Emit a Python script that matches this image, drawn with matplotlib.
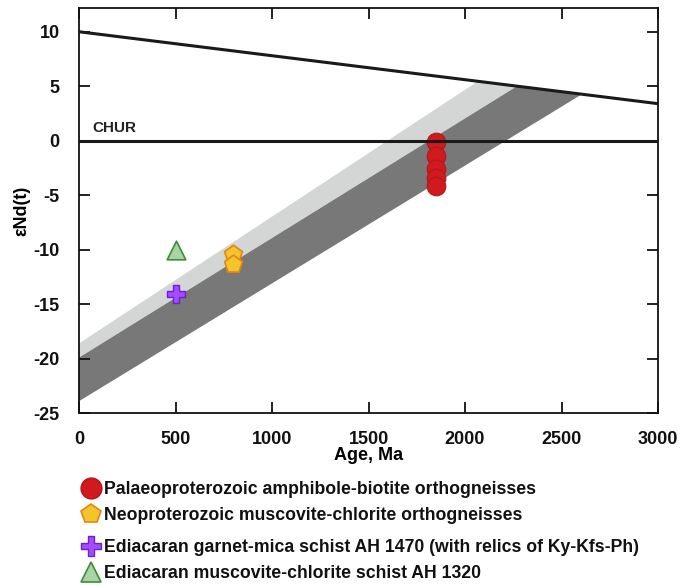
import numpy as np
import matplotlib
matplotlib.use("Agg")
import matplotlib.pyplot as plt
from matplotlib.lines import Line2D

plt.rcParams['font.family'] = ['Liberation Sans Narrow', 'Liberation Sans', 'DejaVu Sans']
plt.rcParams['font.weight'] = 'bold'
plt.rcParams['axes.unicode_minus'] = False

# ---- data ----
dm_age = [0, 3000]
dm_end = [10.0, 3.4]          # depleted mantle line
chur_value = 0.0

# band edges: (eNd at 0 Ma, age where the edge meets the DM line)
light_top = (-18.6, 2067)
band_mid = (-19.9, 2270)
dark_bottom = (-23.9, 2606)

palaeo_age = [1850, 1850, 1850, 1850, 1850]
palaeo_end = [-0.1, -1.4, -2.6, -3.4, -4.2]
neo_age = [800, 800]
neo_end = [-10.4, -11.3]
garnet_age = [500]
garnet_end = [-14.1]
musc_age = [500]
musc_end = [-10.0]

labels = ["Palaeoproterozoic amphibole-biotite orthogneisses",
          "Neoproterozoic muscovite-chlorite orthogneisses",
          "Ediacaran garnet-mica schist AH 1470 (with relics of Ky-Kfs-Ph)",
          "Ediacaran muscovite-chlorite schist AH 1320"]

xticks = [0, 500, 1000, 1500, 2000, 2500, 3000]
yticks = [-25, -20, -15, -10, -5, 0, 5, 10]


def dm(t):
    return np.interp(t, dm_age, dm_end)


def edge(e, t):
    v0, tm = e
    slope = (dm(tm) - v0) / tm
    return v0 + slope * np.asarray(t)


fig = plt.figure(figsize=(6.91, 5.85), dpi=100)
ax = fig.add_axes([79 / 691, 1 - 413.2 / 585, (658 - 79) / 691, (413.2 - 8.3) / 585])


def band(upper, lower, color):
    t_up = np.linspace(0, upper[1], 50)
    t_dm = np.linspace(upper[1], lower[1], 50)
    t_lo = np.linspace(lower[1], 0, 50)
    xs = np.concatenate([t_up, t_dm, t_lo])
    ys = np.concatenate([edge(upper, t_up), dm(t_dm), edge(lower, t_lo)])
    ax.fill(xs, ys, color=color, lw=0, zorder=1)


band(light_top, band_mid, '#d4d5d5')
band(band_mid, dark_bottom, '#787878')

ax.plot(dm_age, dm_end, color='#1a1a1a', lw=2.2, zorder=6)
ax.axhline(chur_value, color='#1a1a1a', lw=2.2, zorder=6)
ax.text(70, 0.8, "CHUR", fontsize=11, fontweight='bold', color='#222222', zorder=7)

ms = 180
ax.scatter(palaeo_age, palaeo_end, s=ms, marker='o', c='#d11a1d', edgecolors='#b01818', linewidths=0.8, zorder=5)
ax.scatter(neo_age, neo_end, s=ms, marker='p', c='#f3c42b', edgecolors='#e58612', linewidths=1.2, zorder=5)
ax.scatter(garnet_age, garnet_end, s=ms, marker='P', c='#a44cf8', edgecolors='#6b1fd9', linewidths=1.0, zorder=5)
ax.scatter(musc_age, musc_end, s=ms, marker='^', c='#a9d5a4', edgecolors='#3d8c3d', linewidths=1.2, zorder=5)

ax.set_xlim(0, 3000)
ax.set_ylim(-25, 12.15)
ax.set_xticks(xticks)
ax.set_yticks(yticks)
ax.tick_params(direction='in', length=8, width=1.3, top=True, right=True,
               labelsize=13, colors='#111111')
ax.tick_params(axis='x', pad=13)
ax.tick_params(axis='y', pad=14)
for lab in ax.get_xticklabels() + ax.get_yticklabels():
    lab.set_fontweight('bold')
for s in ax.spines.values():
    s.set_linewidth(1.3)
    s.set_color('#111111')
ax.set_xlabel("Age, Ma", fontsize=13, fontweight='bold', labelpad=-1)
ax.set_ylabel("εNd(t)", fontsize=13, fontweight='bold', labelpad=2)

handles = [
    Line2D([], [], ls='none', marker='o', ms=15, mfc='#d11a1d', mec='#b01818'),
    Line2D([], [], ls='none', marker='p', ms=15, mfc='#f3c42b', mec='#e58612', mew=1.2),
    Line2D([], [], ls='none', marker='P', ms=15, mfc='#a44cf8', mec='#6b1fd9', mew=1.0),
    Line2D([], [], ls='none', marker='^', ms=15, mfc='#a9d5a4', mec='#3d8c3d', mew=1.2),
]
common = dict(loc='upper left', frameon=False, fontsize=12.7, handletextpad=0.25,
              handlelength=1.0, labelspacing=0.5, borderpad=0, borderaxespad=0)
leg1 = fig.legend(handles[:2], labels[:2], bbox_to_anchor=(82 / 691, 1 - 481 / 585), **common)
leg2 = fig.legend(handles[2:], labels[2:], bbox_to_anchor=(82 / 691, 1 - 539 / 585), **common)
for lg in (leg1, leg2):
    for t in lg.get_texts():
        t.set_fontweight('bold')
        t.set_color('#111111')

fig.savefig("out.png", dpi=100, facecolor='white')
